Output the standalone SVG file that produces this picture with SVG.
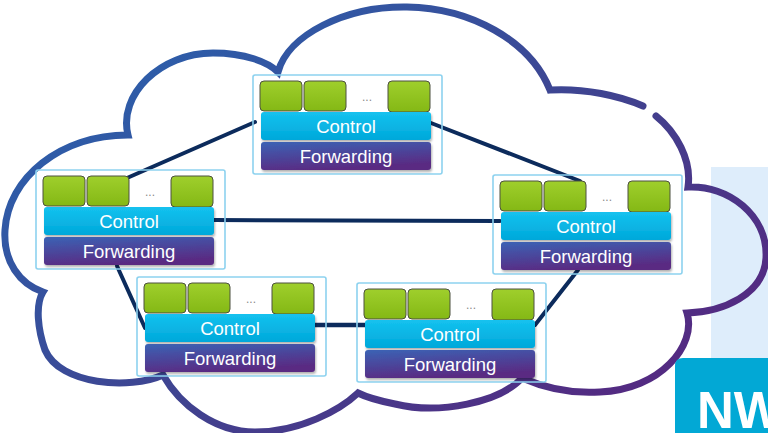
<svg xmlns="http://www.w3.org/2000/svg" width="768" height="433" viewBox="0 0 768 433">
  <defs>
    <linearGradient id="cloudStroke" gradientUnits="userSpaceOnUse" x1="250" y1="0" x2="560" y2="433">
      <stop offset="0" stop-color="#2e5ca8"/>
      <stop offset="0.55" stop-color="#40428f"/>
      <stop offset="1" stop-color="#532b82"/>
    </linearGradient>
    <linearGradient id="portFill" x1="0" y1="0" x2="0" y2="1">
      <stop offset="0" stop-color="#9fcf2c"/>
      <stop offset="1" stop-color="#84b815"/>
    </linearGradient>
    <linearGradient id="ctrlFill" x1="0" y1="0" x2="0" y2="1">
      <stop offset="0" stop-color="#14c2ef"/>
      <stop offset="1" stop-color="#00a8da"/>
    </linearGradient>
    <linearGradient id="fwdFill" x1="0" y1="0" x2="0.35" y2="1">
      <stop offset="0" stop-color="#3b63b5"/>
      <stop offset="1" stop-color="#5a2a82"/>
    </linearGradient>
    <filter id="drop" x="-5%" y="-20%" width="110%" height="150%">
      <feDropShadow dx="1" dy="2" stdDeviation="1.2" flood-color="#000" flood-opacity="0.3"/>
    </filter>
    <style>
      .frame { fill: none; stroke: #8dd2ef; stroke-width: 1.6; }
      .port { fill: url(#portFill); stroke: #4d5040; stroke-width: 1; }
      .ctrl { fill: url(#ctrlFill); filter: url(#drop); }
      .fwd { fill: url(#fwdFill); filter: url(#drop); }
      .lbl { font-family: "Liberation Sans", Arial, sans-serif; font-size: 18.5px; fill: #ffffff; text-anchor: middle; }
      .dots { font-family: "Liberation Sans", Arial, sans-serif; font-size: 12px; fill: #8a8a8a; text-anchor: middle; }
      .link { stroke: #0c2b5c; stroke-width: 4; stroke-linecap: round; fill: none; }
      .cloud { fill: none; stroke: url(#cloudStroke); stroke-width: 7; stroke-linejoin: miter; stroke-linecap: round; }
    </style>
    <!-- one switch: ports, control plane, forwarding plane -->
    <g id="switch">
      <rect class="frame" x="0" y="0" width="189" height="99" rx="2"/>
      <rect class="port" x="7" y="6" width="42" height="30" rx="4"/>
      <rect class="port" x="51" y="6" width="42" height="30" rx="4"/>
      <text class="dots" x="114" y="26">...</text>
      <rect class="port" x="135" y="6" width="42" height="31" rx="4"/>
      <rect class="ctrl" x="8" y="37" width="170" height="28" rx="3"/>
      <text class="lbl" x="93" y="58">Control</text>
      <rect class="fwd" x="8" y="67" width="170" height="28" rx="3"/>
      <text class="lbl" x="93" y="88">Forwarding</text>
    </g>
  </defs>

  <rect width="768" height="433" fill="#ffffff"/>

  <!-- side panel behind the cloud -->
  <rect x="711" y="167" width="57" height="191" fill="#deedfb"/>

  <!-- network cloud outline (open at the upper right) -->
  <path class="cloud" d="M643,106 C620,96 585,88 550,90 C530,40 470,8 407,7 C345,6 288,35 278,72 C268,62 245,53 213,53 C160,53 118,95 128,135 C60,135 8,178 5,230 C3,262 20,284 43,292 C35,305 38,330 45,350 C60,385 130,390 163,375 C180,405 215,432 255,432 C300,432 340,410 358,393 C366,397 380,401 395,404 C440,415 500,402 522,378 C545,388 570,394 600,392 C660,390 697,345 687,313 C722,312 764,295 766,258 C768,215 728,185 688,187 C692,160 676,132 656,116"/>

  <!-- links between switches -->
  <g id="links">
    <line class="link" x1="255" y1="122" x2="127" y2="178"/>
    <line class="link" x1="431" y1="123" x2="580" y2="181"/>
    <line class="link" x1="214" y1="220" x2="500" y2="221"/>
    <line class="link" x1="117" y1="266" x2="145" y2="328"/>
    <line class="link" x1="314" y1="325" x2="365" y2="325" style="stroke-width:4.5"/>
    <line class="link" x1="578" y1="270" x2="535" y2="325"/>
  </g>

  <g id="switch-top" transform="translate(253,75)"><use href="#switch"/></g>
  <g id="switch-left" transform="translate(36,170)"><use href="#switch"/></g>
  <g id="switch-right" transform="translate(493,175)"><use href="#switch"/></g>
  <g id="switch-bottom-left" transform="translate(137,277)"><use href="#switch"/></g>
  <g id="switch-bottom-right" transform="translate(357,283)"><use href="#switch"/></g>

  <!-- title tab -->
  <g id="nw-tab">
    <path d="M675,433 V366 Q675,358 683,358 H768 V433 Z" fill="#02a8d5"/>
    <text x="697" y="428" font-family="Liberation Sans, Arial, sans-serif" font-weight="bold" font-size="51" fill="#ffffff">NW</text>
  </g>
</svg>
